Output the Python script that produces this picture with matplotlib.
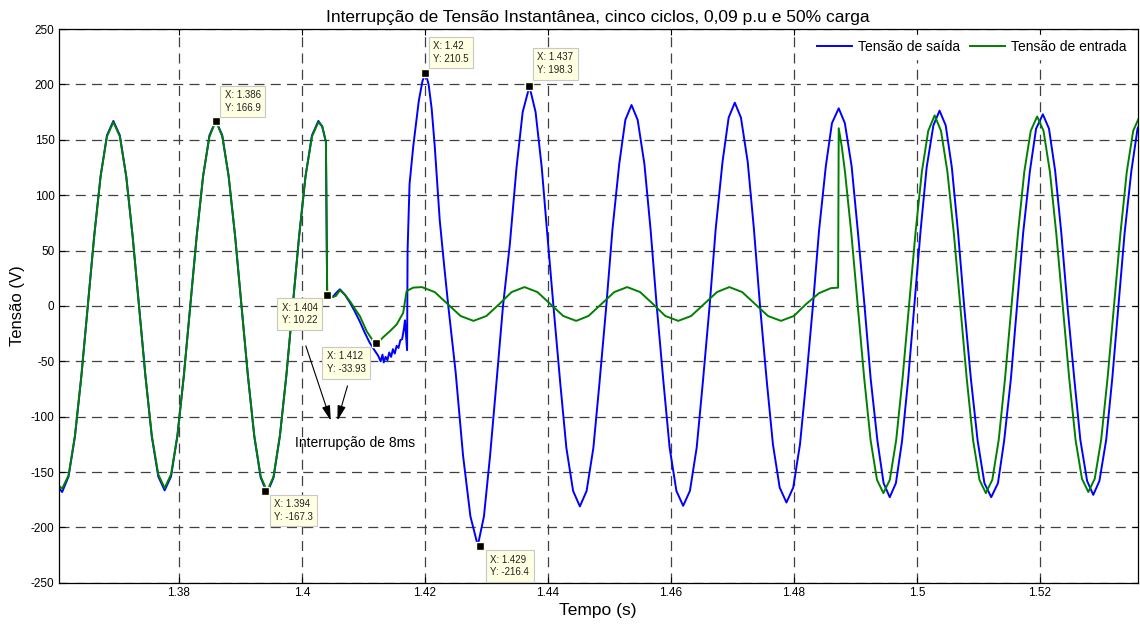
import matplotlib
matplotlib.use("Agg")
import matplotlib.pyplot as plt

plt.rcParams['font.family'] = ['Liberation Sans', 'DejaVu Sans']
plt.rcParams['axes.unicode_minus'] = False

# tensao de saida (azul)
t_saida = [1.3604, 1.3610, 1.36204, 1.36308, 1.36413, 1.36517, 1.36621, 1.36725, 1.36829, 1.36933,
           1.37038, 1.37142, 1.37246, 1.37350, 1.37454, 1.37558, 1.37663, 1.37767, 1.37871, 1.37975,
           1.38079, 1.38183, 1.38288, 1.38392, 1.38496, 1.38600, 1.38704, 1.38808, 1.38913, 1.39017,
           1.39121, 1.39225, 1.39329, 1.39433, 1.39538, 1.39642, 1.39746, 1.39850, 1.39954, 1.40058,
           1.40163, 1.40267, 1.4033, 1.4039, 1.4041, 1.4043,
           1.4050, 1.4056, 1.40618, 1.4070, 1.4078, 1.4086, 1.4094, 1.4102, 1.4110, 1.4118,
           1.4124, 1.4128, 1.4131, 1.4133, 1.4136, 1.4139, 1.4142, 1.4145, 1.4148, 1.4151,
           1.4154, 1.4157, 1.4160, 1.4163, 1.4166, 1.41675, 1.4169, 1.4171, 1.41718, 1.4175,
           1.4181, 1.4190, 1.4196, 1.4201, 1.4206, 1.4211, 1.4216, 1.4224, 1.4231, 1.4238,
           1.4250, 1.4262, 1.4274, 1.4286, 1.4296, 1.4306, 1.4317, 1.4327,
           1.4338, 1.4349, 1.4359, 1.4370, 1.4380, 1.4390, 1.4399, 1.4409,
           1.4420, 1.4430, 1.4441, 1.4452, 1.4463, 1.4474, 1.4484, 1.4495,
           1.4505, 1.4516, 1.4526, 1.4536, 1.4546, 1.4557, 1.4567, 1.4577,
           1.4588, 1.4598, 1.4609, 1.4620, 1.4631, 1.4642, 1.4652, 1.4663,
           1.4673, 1.4684, 1.4694, 1.4704, 1.4714, 1.4725, 1.4735, 1.4745,
           1.4756, 1.4766, 1.4777, 1.4788, 1.4799, 1.4810, 1.4820, 1.4831,
           1.4841, 1.4852, 1.4862, 1.4873, 1.4883, 1.4894, 1.4904, 1.4915,
           1.4925, 1.4936, 1.4946, 1.4956, 1.4966, 1.4976, 1.4986, 1.4996,
           1.5006, 1.5016, 1.5027, 1.5037, 1.5047, 1.5057, 1.5067, 1.5077,
           1.5088, 1.5099, 1.5110, 1.5121, 1.5132, 1.5142, 1.5153, 1.5163,
           1.5173, 1.5184, 1.5194, 1.5205, 1.5215, 1.5225, 1.5235, 1.5245,
           1.5256, 1.5266, 1.5277, 1.5287, 1.5297, 1.5308, 1.5318, 1.5328,
           1.5338, 1.5349, 1.5359, 1.5370]
v_saida = [-164, -168, -154, -118, -63, 0, 63, 117, 154, 167,
           154, 117, 63, 0, -63, -118, -154, -166.5, -154, -117,
           -63, 0, 63, 117, 154, 167.5, 154, 117, 63, 0,
           -63, -118, -155, -169, -155, -117, -63, 0, 63, 117,
           154, 167, 162, 148, 12, 10.2,
           8, 12, 15, 10, 3, -5, -14, -24, -33, -40,
           -45, -50, -44, -51, -46, -49, -42, -46, -39, -43,
           -36, -38, -31, -30, -20, -13, -25, -40, 50, 110,
           144, 185, 203, 210.5, 200, 178, 144, 78, 38, 0,
           -60, -135, -190, -216.4, -190, -135, -65, 0,
           55, 125, 175, 198.3, 175, 125, 65, 0,
           -69, -128, -167, -181, -167, -128, -69, 0,
           69, 128, 168, 181.4, 168, 128, 69, 0,
           -69, -128, -167, -180.5, -167, -128, -69, 0,
           70, 130, 170, 183.5, 170, 130, 70, 0,
           -68, -125, -164, -177.5, -164, -125, -68, 0,
           68, 126, 165, 178.4, 165, 126, 68, 0,
           -66, -122, -160, -172.7, -160, -122, -66, 0,
           67, 125, 163, 176.3, 163, 125, 67, 0,
           -66, -122, -160, -172.7, -160, -122, -66, 0,
           66, 122, 160, 173, 160, 122, 66, 0,
           -65, -121, -158, -170.6, -158, -121, -65, 0,
           66, 122, 160, 173]

# tensao de entrada (verde)
t_entrada = [1.3604, 1.3610, 1.36204, 1.36308, 1.36413, 1.36517, 1.36621, 1.36725, 1.36829, 1.36933,
             1.37038, 1.37142, 1.37246, 1.37350, 1.37454, 1.37558, 1.37663, 1.37767, 1.37871, 1.37975,
             1.38079, 1.38183, 1.38288, 1.38392, 1.38496, 1.38600, 1.38704, 1.38808, 1.38913, 1.39017,
             1.39121, 1.39225, 1.39329, 1.39433, 1.39538, 1.39642, 1.39746, 1.39850, 1.39954, 1.40058,
             1.40163, 1.40267, 1.4033, 1.4039, 1.4041, 1.4043,
             1.4050, 1.40553, 1.40618, 1.4070, 1.4078, 1.4086, 1.40943, 1.41052, 1.41159, 1.41224,
             1.41322, 1.41431, 1.4154, 1.41647, 1.41702, 1.4181, 1.4195,
             1.4216, 1.4237, 1.4258, 1.4279, 1.4300, 1.4321, 1.4341, 1.4362,
             1.4383, 1.4404, 1.4425, 1.4446, 1.4466, 1.4487, 1.4508, 1.4529,
             1.4550, 1.4571, 1.4591, 1.4612, 1.4633, 1.4654, 1.4675, 1.4695,
             1.4716, 1.4737, 1.4758, 1.4779, 1.4800, 1.4820, 1.4841, 1.4860, 1.4870, 1.4872,
             1.4873, 1.4878, 1.48832, 1.48936, 1.4904, 1.49144, 1.49248, 1.49352, 1.49457,
             1.49561, 1.49665, 1.49769, 1.49873, 1.49977, 1.50082, 1.50186, 1.5029,
             1.50394, 1.50498, 1.50603, 1.50707, 1.50811, 1.50915, 1.51019, 1.51123,
             1.51228, 1.51332, 1.51436, 1.5154, 1.51644, 1.51748, 1.51853, 1.51957,
             1.52061, 1.52165, 1.52269, 1.52373, 1.52478, 1.52582, 1.52686, 1.5279,
             1.52894, 1.52998, 1.53103, 1.53207, 1.53311, 1.53415, 1.53519, 1.53623]
v_entrada = [-162, -165, -153, -117, -63, 0, 63, 117, 153, 166,
             153, 117, 63, 0, -63, -117, -152, -164.5, -152, -117,
             -63, 0, 63, 117, 153, 166.9, 153, 117, 63, 0,
             -63, -117, -154, -167.3, -154, -117, -63, 0, 63, 117,
             153, 166, 162, 148, 12, 10.2,
             8, 9, 14.2, 10, 4.3, -2.5, -9.3, -22.8, -31.8, -33.9,
             -28.2, -22.8, -16.8, -6.2, 13.4, 16.5, 17.0,
             12.5, 1.7, -9.1, -13.5, -9.1, 1.7, 12.5, 17.0,
             12.5, 1.7, -9.1, -13.5, -9.1, 1.7, 12.5, 17.0,
             12.5, 1.7, -9.1, -13.5, -9.1, 1.7, 12.5, 17.0,
             12.5, 1.7, -9.1, -13.5, -9.1, 1.7, 11.5, 16.0, 16.5, 16.5,
             160.4, 143.8, 121, 65, 0, -65, -121, -157, -169,
             -157, -121, -65, 0, 65, 121, 158, 172,
             158, 121, 65, 0, -65, -121, -157, -169,
             -157, -121, -65, 0, 65, 121, 158, 171,
             158, 121, 65, 0, -65, -121, -156, -168,
             -156, -121, -65, 0, 65, 121, 158, 171]

# data tips
tip_x = [1.386, 1.394, 1.404, 1.412, 1.42, 1.437, 1.429]
tip_y = [166.9, -167.3, 10.22, -33.93, 210.5, 198.3, -216.4]
tip_off = [(9, 8), (9, -8), (-9, -8), (-10, -8), (8, 9), (8, 11), (10, -9)]

xticks = [1.38, 1.40, 1.42, 1.44, 1.46, 1.48, 1.50, 1.52]
xtick_labels = ['1.38', '1.4', '1.42', '1.44', '1.46', '1.48', '1.5', '1.52']
yticks = [-250, -200, -150, -100, -50, 0, 50, 100, 150, 200, 250]

fig = plt.figure(figsize=(11.4, 6.24), dpi=100)
ax = fig.add_axes([0.0515, 0.066, 0.9465, 0.8875])
ax.set_axisbelow(True)

ax.plot(t_saida, v_saida, color='#0000ff', lw=1.4, label='Tensão de saída')
ax.plot(t_entrada, v_entrada, color='#008000', lw=1.4, label='Tensão de entrada')

ax.set_xlim(1.36044, 1.53593)
ax.set_ylim(-250, 250)
ax.set_xticks(xticks)
ax.set_xticklabels(xtick_labels)
ax.set_yticks(yticks)
ax.tick_params(direction='in', length=4, top=True, right=True, labelsize=8.5, pad=3)
ax.grid(True, color='#404040', linestyle=(0, (8, 5)), linewidth=0.9)
for s in ax.spines.values():
    s.set_linewidth(0.9)

ax.set_title('Interrupção de Tensão Instantânea, cinco ciclos, 0,09 p.u e 50% carga',
             fontsize=12.5, pad=5)
ax.set_xlabel('Tempo (s)', fontsize=12.5)
ax.set_ylabel('Tensão (V)', fontsize=12)
ax.xaxis.set_label_coords(0.5, -0.037)
ax.yaxis.set_label_coords(-0.031, 0.5)

# marcadores dos data tips
ax.plot(tip_x, tip_y, 's', color='black', ms=6, mec='#ffffe1', mew=1, zorder=5)
for x, y, off in zip(tip_x, tip_y, tip_off):
    ha = 'left' if off[0] > 0 else 'right'
    va = 'bottom' if off[1] > 0 else 'top'
    ax.annotate('X: %s\nY: %s' % (x, y), xy=(x, y), xytext=off, textcoords='offset pixels',
                ha=ha, va=va, multialignment='left', fontsize=7, color='#222222',
                linespacing=1.35, zorder=6,
                bbox=dict(boxstyle='square,pad=0.45', fc='#ffffe1', ec='#c8c8c8', lw=0.8))

# setas e texto da interrupcao
ax.annotate('', xy=(1.40483, -105.9), xytext=(1.40049, -33.7),
            arrowprops=dict(arrowstyle='-|>,head_length=0.9,head_width=0.25', color='black', lw=0.8))
ax.annotate('', xy=(1.40564, -105.9), xytext=(1.40753, -69.8),
            arrowprops=dict(arrowstyle='-|>,head_length=0.9,head_width=0.25', color='black', lw=0.8))
ax.text(1.40862, -123.4, 'Interrupção de 8ms', fontsize=10, ha='center', va='center')

leg = ax.legend(loc='upper right', ncol=2, fontsize=10, handlelength=2.5, handletextpad=0.45,
                columnspacing=0.7, borderpad=0.35, borderaxespad=0.45, fancybox=False,
                framealpha=1, edgecolor='white')
leg.set_zorder(10)

fig.savefig('out.png', dpi=100)
